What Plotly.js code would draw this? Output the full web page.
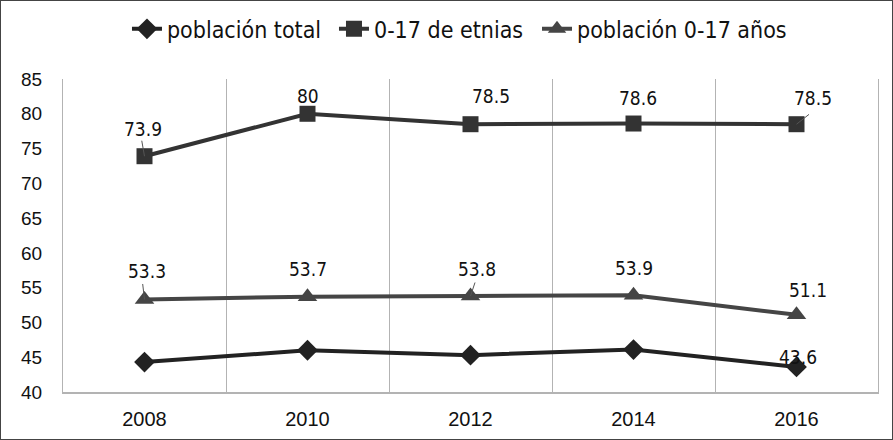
<!DOCTYPE html>
<html>
<head>
<meta charset="utf-8">
<script src="https://cdn.plot.ly/plotly-3.0.1.min.js"></script>
<style>
  html, body { margin: 0; padding: 0; background: #fff; }
  #frame { width: 893px; height: 440px; box-sizing: border-box; border: 1.5px solid #444; overflow: hidden; }
  #chart { width: 890px; height: 437px; }
</style>
</head>
<body>
<div id="frame"><div id="chart"></div></div>
<script>
const years = ["2008", "2010", "2012", "2014", "2016"];
const seriesNames = ["población total", "0-17 de etnias", "población 0-17 años"];
const poblacionTotal = [44.3, 46.0, 45.3, 46.1, 43.6];
const etnias017 = [73.9, 80, 78.5, 78.6, 78.5];
const poblacion017 = [53.3, 53.7, 53.8, 53.9, 51.1];
const labelsTotal = [null, null, null, null, "43.6"];
const labelsEtnias = ["73.9", "80", "78.5", "78.6", "78.5"];
const labels017 = ["53.3", "53.7", "53.8", "53.9", "51.1"];
const yTicks = [40, 45, 50, 55, 60, 65, 70, 75, 80, 85];

const labelFont = "Liberation Sans Narrow, DejaVu Sans Condensed, Roboto, sans-serif";
const tickFont = "Liberation Sans, Arial, sans-serif";

const traces = [
  { name: seriesNames[0], legend: "legend", x: years, y: poblacionTotal, type: "scatter", mode: "lines+markers",
    line: { color: "#222222", width: 4 }, marker: { symbol: "diamond", size: 16, color: "#222222" } },
  { name: seriesNames[1], legend: "legend2", x: years, y: etnias017, type: "scatter", mode: "lines+markers",
    line: { color: "#333333", width: 4 }, marker: { symbol: "square", size: 16, color: "#333333" } },
  { name: seriesNames[2], legend: "legend3", x: years, y: poblacion017, type: "scatter", mode: "lines+markers",
    line: { color: "#454545", width: 4 }, marker: { symbol: "triangle-up", size: 17, color: "#454545" } }
];

// label placement offsets (style, pixels) and optional leader-line offsets
const shifts = {
  total: [[0, 10], [0, 10], [0, 10], [0, 10], [1, 10]],
  etnias: [[-2, 27], [0, 18], [20, 28], [4, 26], [16, 26]],
  p017: [[2, 28], [0, 28], [6, 27], [0, 27], [11, 25]]
};
const leaders = {
  total: [null, null, null, null, null],
  etnias: [[-3, -17], null, null, null, [14, -11]],
  p017: [[-2, -17], null, [5, -15], null, null]
};
const annotations = [];
function addLabels(vals, labels, sh, ld) {
  years.forEach((yr, i) => {
    if (labels[i] === null) return;
    // category axis: annotation x given as category index
    annotations.push({ x: i, y: vals[i], xref: "x", yref: "y", text: labels[i], showarrow: false,
      xshift: sh[i][0], yshift: sh[i][1], font: { family: labelFont, size: 19, color: "#111" } });
    if (ld[i]) {
      annotations.push({ x: i, y: vals[i], xref: "x", yref: "y", text: "", showarrow: true,
        arrowhead: 0, arrowwidth: 1, arrowcolor: "#555", ax: ld[i][0], ay: ld[i][1], standoff: 0 });
    }
  });
}
addLabels(poblacionTotal, labelsTotal, shifts.total, leaders.total);
addLabels(etnias017, labelsEtnias, shifts.etnias, leaders.etnias);
addLabels(poblacion017, labels017, shifts.p017, leaders.p017);

function legendAt(xPos) {
  return { orientation: "h", x: xPos, xanchor: "left", y: 1.16, yanchor: "middle",
    font: { family: labelFont, size: 23, color: "#111" }, itemwidth: 30, bgcolor: "rgba(0,0,0,0)" };
}

const layout = {
  width: 890, height: 437,
  margin: { l: 62, r: 13, t: 78, b: 46, autoexpand: false },
  paper_bgcolor: "#ffffff", plot_bgcolor: "#ffffff",
  showlegend: true,
  legend: legendAt(0.0785),
  legend2: legendAt(0.3325),
  legend3: legendAt(0.5816),
  xaxis: { type: "category", range: [-0.5, years.length - 0.5], tickson: "boundaries", showgrid: true,
    gridcolor: "#b3b3b3", gridwidth: 1,
    showline: true, linecolor: "#b3b3b3", linewidth: 1.5, ticks: "", zeroline: false,
    ticklabelstandoff: 8,
    tickfont: { family: tickFont, size: 20, color: "#111" } },
  yaxis: { range: [40, 85], tickvals: yTicks, ticktext: yTicks.map(String), showgrid: false, zeroline: false,
    showline: true, mirror: true, linecolor: "#b3b3b3", linewidth: 1, ticks: "", ticklabelstandoff: 16,
    tickfont: { family: tickFont, size: 19, color: "#111" } },
  annotations: annotations
};

Plotly.newPlot("chart", traces, layout, { displayModeBar: false, staticPlot: true });
</script>
</body>
</html>
